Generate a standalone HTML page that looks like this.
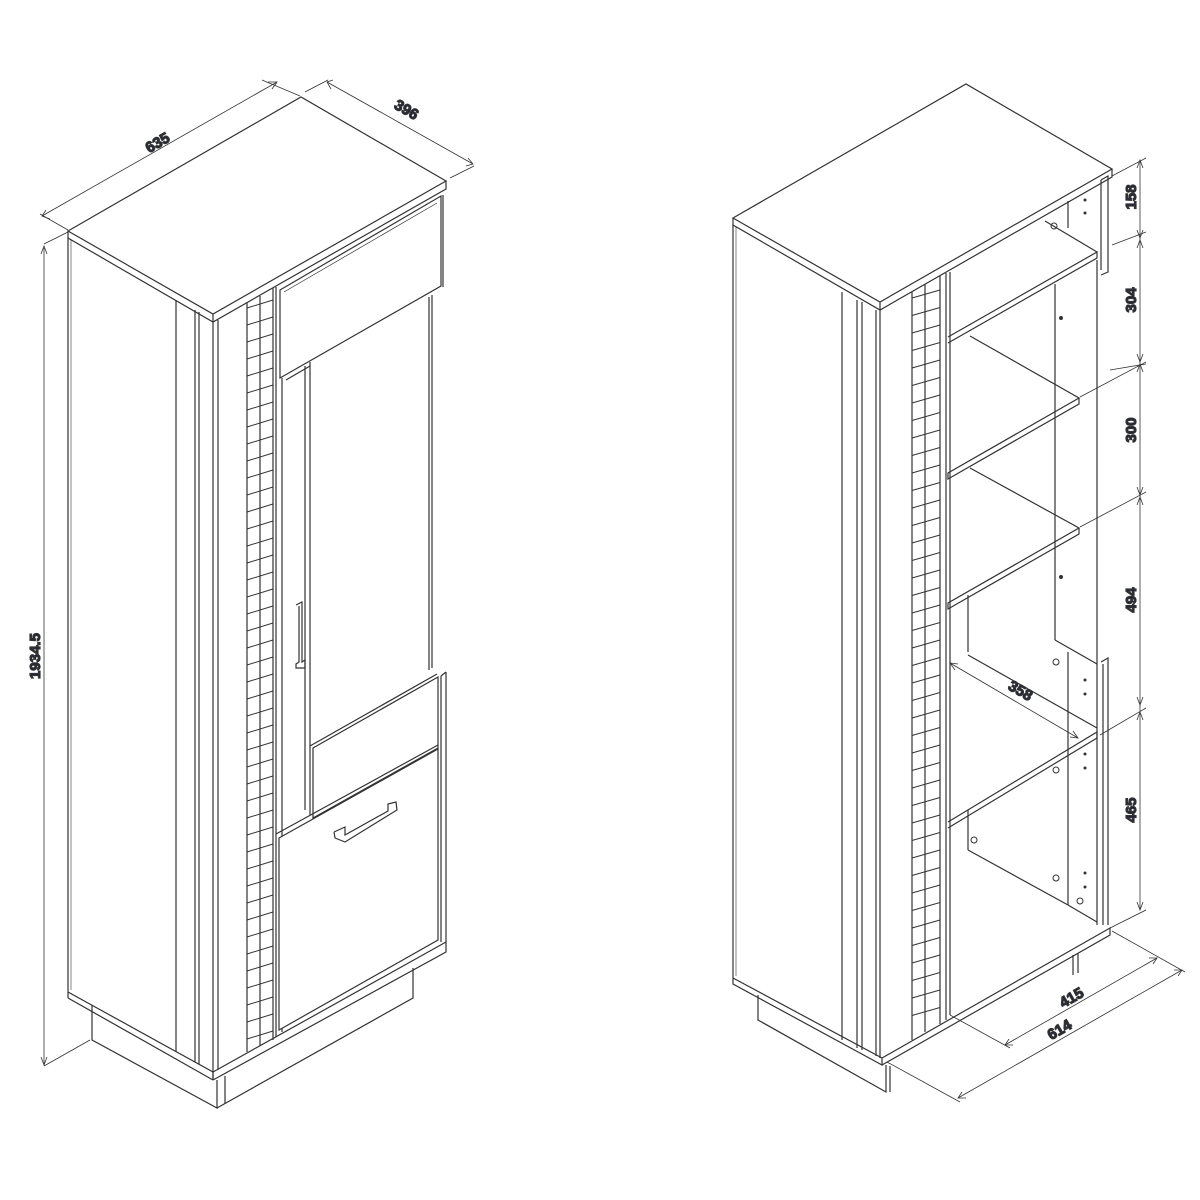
<!DOCTYPE html>
<html><head><meta charset="utf-8"><style>
html,body{margin:0;padding:0;background:#fff}
svg{display:block}
text{font-family:"Liberation Sans",sans-serif;font-weight:bold;font-size:15px;fill:#1e2340}
</style></head><body>
<svg id="s" width="1200" height="1200" viewBox="0 0 1200 1200" xmlns="http://www.w3.org/2000/svg" fill="none" stroke="#333" stroke-width="1.2">
<!-- ===== LEFT CABINET ===== -->
<!-- top -->
<polygon points="68,231 301,97 446,181 213,314" fill="#fff"/>
<polyline points="68,231 68,238 213,322 446,189 446,181"/>
<line x1="213" y1="314" x2="213" y2="322"/>
<!-- side -->
<line x1="68" y1="238" x2="68" y2="992"/>
<line x1="71" y1="240" x2="71" y2="990" stroke-width="0.6"/>
<polyline points="68,992 213,1072 213,1080"/>
<line x1="68" y1="992" x2="68" y2="998"/>
<line x1="68" y1="998" x2="213" y2="1080"/>
<!-- plinth -->
<polyline points="92,1005 92,1040 217,1108 217,1080"/>
<polyline points="217,1108 413,998 413,968"/>
<line x1="225" y1="1076" x2="225" y2="1104"/>
<!-- base plate -->
<polyline points="213,1072 446,942 446,952 213,1080"/>
<line x1="213" y1="1072" x2="213" y2="1080"/>
<!-- front frame verticals -->
<line x1="176" y1="300" x2="176" y2="1052"/>
<line x1="195" y1="310" x2="195" y2="1062"/>
<line x1="199" y1="312" x2="199" y2="1064"/>
<line x1="213" y1="322" x2="213" y2="1072"/>
<line x1="218" y1="320" x2="218" y2="1070"/>
<line x1="247" y1="303" x2="247" y2="1052"/>
<line x1="260" y1="296" x2="260" y2="1046"/>
<line x1="273" y1="288" x2="273" y2="1040"/>
<line x1="276" y1="287" x2="276" y2="1037"/>
<g id="latL" stroke-width="1"></g>
<!-- top drawer -->
<polygon points="280,290 441,196 441,286 280,378" fill="#fff"/>
<line x1="284" y1="292" x2="437" y2="203" stroke-width="0.7"/>
<line x1="443" y1="195" x2="443" y2="287"/>
<!-- glass door -->
<polyline points="282,378 282,1032 "/>
<line x1="286" y1="380" x2="310" y2="366"/>
<line x1="310" y1="362" x2="310" y2="815"/>
<line x1="305" y1="366" x2="305" y2="810"/>
<line x1="432" y1="295" x2="432" y2="668"/>
<line x1="429" y1="297" x2="429" y2="670"/>
<!-- upper handle -->
<polyline points="296,605 302,602 302,662 305,660 305,668 296,668 296,664 299,662 299,606"/>
<!-- small drawer -->
<polygon points="313,748 438,677 438,748 313,818" fill="#fff"/>
<line x1="310" y1="746" x2="437" y2="674"/>
<line x1="441" y1="676" x2="446" y2="672"/>
<line x1="446" y1="672" x2="446" y2="942"/>
<line x1="441" y1="676" x2="441" y2="942"/>
<!-- lower door -->
<polygon points="279,838 438,749 438,940 279,1030" fill="#fff"/>
<line x1="276" y1="834" x2="438" y2="745"/>
<!-- lower handle -->
<polyline points="334,832 345,827 345,835 388,811 388,804 396,802 397,810 345,842 335,838 334,832"/>
<!-- dims left -->
<g stroke-width="0.8">
<line x1="42" y1="216" x2="277" y2="82"/>
<line x1="40" y1="214" x2="68" y2="230"/>
<line x1="262" y1="80" x2="300" y2="96"/>
<line x1="327" y1="82" x2="473" y2="164"/>
<line x1="305" y1="92" x2="328" y2="80"/>
<line x1="450" y1="178" x2="474" y2="166"/>
<line x1="44" y1="248" x2="44" y2="1065"/>
<line x1="44" y1="244" x2="68" y2="232"/>
<line x1="44" y1="1066" x2="90" y2="1040"/>
<polyline points="50,219 42,216 46,210"/><polyline points="268,82 277,82 272,89"/>
<polyline points="333,80 327,82 331,89"/><polyline points="466,166 473,164 468,158"/>
<polyline points="41,254 44,246 47,254"/><polyline points="41,1057 44,1065 47,1057"/>
</g>
<text transform="translate(160,147) rotate(-30)" text-anchor="middle">635</text>
<text transform="translate(404,114) rotate(30)" text-anchor="middle">396</text>
<text transform="translate(40,656) rotate(-90)" text-anchor="middle">1934.5</text>

<!-- ===== RIGHT CABINET ===== -->
<polygon points="733,218 966,84 1112,169 880,302" fill="#fff"/>
<polyline points="733,218 733,225 880,310 1112,177 1112,169"/>
<line x1="880" y1="302" x2="880" y2="310"/>
<line x1="733" y1="225" x2="733" y2="978"/>
<line x1="736" y1="227" x2="736" y2="976" stroke-width="0.6"/>
<polyline points="733,978 882,1058 882,1065 733,984 733,978"/>
<polyline points="758,995 758,1020 886,1092 886,1065"/>
<line x1="890" y1="1066" x2="890" y2="1092"/>
<polyline points="882,1058 1110,928 1110,935 882,1065"/>
<line x1="1073" y1="955" x2="1073" y2="975"/><line x1="1078" y1="953" x2="1078" y2="973"/>
<line x1="842" y1="292" x2="842" y2="1040"/>
<line x1="857" y1="300" x2="857" y2="1048"/>
<line x1="862" y1="302" x2="862" y2="1050"/>
<line x1="876" y1="310" x2="876" y2="1056"/>
<line x1="880" y1="310" x2="880" y2="1058"/>
<line x1="912" y1="292" x2="912" y2="1040"/>
<line x1="925" y1="284" x2="925" y2="1032"/>
<line x1="940" y1="276" x2="940" y2="1024"/>
<line x1="946" y1="273" x2="946" y2="1020"/>
<line x1="950" y1="272" x2="950" y2="1015"/>
<g id="latR" stroke-width="1"></g>
<!-- right side panel / back -->
<line x1="1097" y1="260" x2="1097" y2="925"/>
<line x1="1101" y1="180" x2="1101" y2="270"/>
<polyline points="1101,180 1108,176 1108,272 1101,275"/>
<polyline points="1101,662 1108,658 1108,925"/>
<line x1="1103" y1="664" x2="1103" y2="925"/>
<line x1="1055" y1="284" x2="1055" y2="640"/>
<polyline points="1055,640 1097,664"/>
<line x1="1068" y1="201" x2="1068" y2="228"/>
<line x1="1068" y1="652" x2="1068" y2="905"/>
<line x1="1068" y1="905" x2="1097" y2="922"/>
<line x1="968" y1="595" x2="968" y2="652"/><line x1="968" y1="810" x2="968" y2="850"/>
<line x1="968" y1="850" x2="1068" y2="905"/>
<line x1="968" y1="655" x2="1097" y2="728"/>
<!-- shelves -->
<polyline points="948,337 1097,252 1097,258 948,343"/>
<line x1="1045" y1="221" x2="1097" y2="252"/>
<polyline points="970,336 1079,398 948,473 948,479 1079,404 1079,398"/>
<polyline points="970,468 1079,528 948,603 948,609 1079,534 1079,528"/>
<polyline points="948,822 1097,732 1097,738 948,828"/>
<!-- holes -->
<g stroke-width="1">
<circle cx="1056" cy="662" r="3"/><circle cx="1056" cy="770" r="3"/><circle cx="974" cy="840" r="3"/>
<circle cx="1056" cy="878" r="3"/><circle cx="1080" cy="901" r="3"/><circle cx="1054" cy="226" r="3"/>
<circle cx="1061" cy="318" r="1.5" fill="#333"/><circle cx="1061" cy="577" r="1.5" fill="#333"/>
<circle cx="1085" cy="200" r="1" fill="#333"/><circle cx="1085" cy="213" r="1" fill="#333"/>
<circle cx="1085" cy="680" r="1" fill="#333"/><circle cx="1085" cy="694" r="1" fill="#333"/>
<circle cx="1085" cy="754" r="1" fill="#333"/><circle cx="1085" cy="768" r="1" fill="#333"/>
<circle cx="1085" cy="873" r="1" fill="#333"/><circle cx="1085" cy="887" r="1" fill="#333"/>
</g>
<!-- dims right -->
<g stroke-width="0.8">
<line x1="1140" y1="160" x2="1140" y2="910"/>
<line x1="1112" y1="176" x2="1146" y2="158"/>
<line x1="1112" y1="245" x2="1146" y2="232"/>
<line x1="1110" y1="370" x2="1146" y2="364"/><line x1="1080" y1="397" x2="1146" y2="362"/>
<line x1="1080" y1="527" x2="1146" y2="492"/>
<line x1="1100" y1="735" x2="1146" y2="708"/>
<line x1="1110" y1="928" x2="1146" y2="910"/>
<polyline points="1137,168 1140,160 1143,168"/><polyline points="1137,230 1140,238 1143,230"/>
<polyline points="1137,248 1140,240 1143,248"/><polyline points="1137,354 1140,362 1143,354"/>
<polyline points="1137,372 1140,364 1143,372"/><polyline points="1137,487 1140,495 1143,487"/>
<polyline points="1137,505 1140,497 1143,505"/><polyline points="1137,697 1140,705 1143,697"/>
<polyline points="1137,720 1140,712 1143,720"/><polyline points="1137,902 1140,910 1143,902"/>
<line x1="950" y1="663" x2="1078" y2="738"/>
<polyline points="958,664 950,663 955,670"/><polyline points="1070,737 1078,738 1073,731"/>
<line x1="1005" y1="1045" x2="1157" y2="958"/>
<line x1="950" y1="1015" x2="1010" y2="1048"/>
<line x1="1112" y1="931" x2="1185" y2="972"/>
<line x1="958" y1="1098" x2="1182" y2="970"/>
<line x1="887" y1="1062" x2="960" y2="1102"/>
<polyline points="1013,1045 1005,1045 1009,1039"/><polyline points="1149,958 1157,958 1153,964"/>
<polyline points="966,1098 958,1098 962,1092"/><polyline points="1174,970 1182,970 1178,976"/>
</g>
<text transform="translate(1136,197) rotate(-90)" text-anchor="middle">158</text>
<text transform="translate(1136,300) rotate(-90)" text-anchor="middle">304</text>
<text transform="translate(1136,430) rotate(-90)" text-anchor="middle">300</text>
<text transform="translate(1136,600) rotate(-90)" text-anchor="middle">494</text>
<text transform="translate(1136,810) rotate(-90)" text-anchor="middle">465</text>
<text transform="translate(1018,695) rotate(30)" text-anchor="middle">358</text>
<text transform="translate(1074,1002) rotate(-30)" text-anchor="middle">415</text>
<text transform="translate(1062,1034) rotate(-30)" text-anchor="middle">614</text>
</svg>
<script>
function lat(id,x1,x2,y0,y1,step){var g=document.getElementById(id),h='';
for(var y=y0;y<y1;y+=step){h+='<line x1="'+x1+'" y1="'+(y+8)+'" x2="'+x2+'" y2="'+y+'"/>';}
g.innerHTML=h;}
lat('latL',247,273,300,1040,17);
lat('latR',912,940,290,1020,17.5);
</script>
</body></html>
